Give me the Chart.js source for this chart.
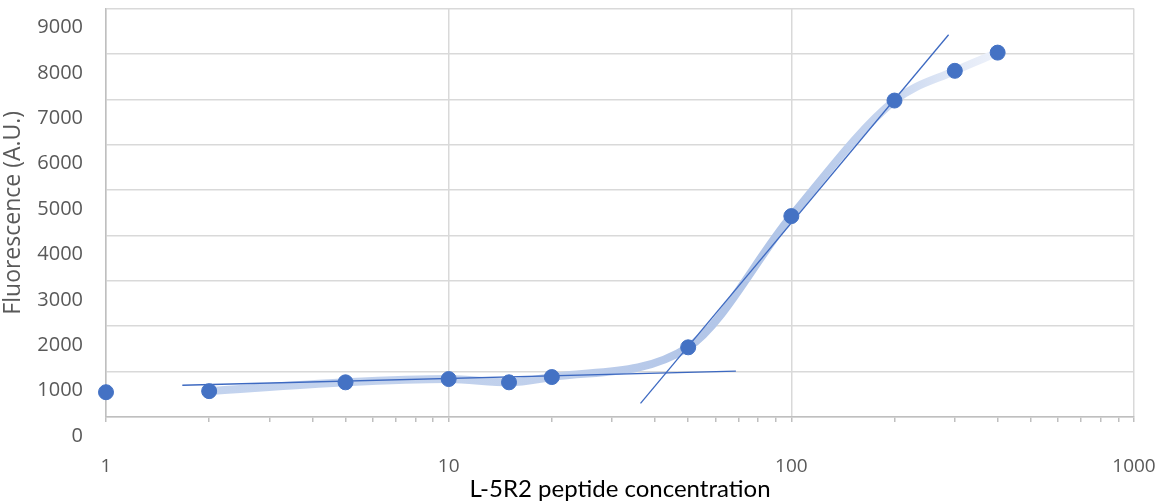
<!DOCTYPE html>
<html>
<head>
<meta charset="utf-8">
<script src="https://cdn.jsdelivr.net/npm/chart.js@4"></script>
<style>
  body { margin: 0; background: #fff; }
</style>
</head>
<body>
<canvas id="chart" width="1161" height="504"></canvas>
<script>
const concentrations = [1, 2, 5, 10, 15, 20, 50, 100, 200, 300, 400];
const fluorescence = [546, 570, 764, 836, 764, 880, 1535, 4426, 6972, 7627, 8028];

// smoothed curve runs from the 2nd point to the last one
const fitConc = [2, 5, 10, 15, 20, 50, 100, 200, 300, 400];
const fitValues = [570, 764, 836, 764, 880, 1535, 4426, 6972, 7627, 8028];

// the two straight tangent lines
const baselineConc = [1.67, 68.9];
const baselineValues = [699, 1011];
const slopeConc = [36.3, 287.7];
const slopeValues = [299, 8421];

// axis ticks
const xTickValues = [1, 2, 3, 4, 5, 6, 7, 8, 9, 10, 20, 30, 40, 50, 60, 70, 80, 90,
    100, 200, 300, 400, 500, 600, 700, 800, 900, 1000];
const xMajorTicks = [1, 10, 100, 1000];

const toPoints = (xs, ys) => xs.map((x, i) => ({ x: x, y: ys[i] }));

// light band that fades out towards the top end
const fitColor = (context) => {
    const chart = context.chart;
    if (!chart.chartArea) return '#b4c7e7';
    const sx = chart.scales.x;
    const p0 = sx.getPixelForValue(2);
    const p1 = sx.getPixelForValue(400);
    const g = chart.ctx.createLinearGradient(p0, 0, p1, 0);
    const stop = (v) => (sx.getPixelForValue(v) - p0) / (p1 - p0);
    g.addColorStop(0, '#c3d3ee');
    g.addColorStop(stop(20), '#c0d0ec');
    g.addColorStop(stop(50), '#b3c6e8');
    g.addColorStop(stop(100), '#b2c6e8');
    g.addColorStop(stop(200), '#c9d7f0');
    g.addColorStop(stop(300), '#e2e9f6');
    g.addColorStop(1, '#edf1fa');
    return g;
};

const labelFont = { family: 'Open Sans', size: 20 };

new Chart(document.getElementById('chart'), {
    type: 'scatter',
    data: {
        datasets: [
            {
                label: 'Fluorescence',
                data: toPoints(concentrations, fluorescence),
                backgroundColor: '#4472c4',
                borderColor: '#4472c4',
                pointRadius: 7.5,
                pointHoverRadius: 7.5,
                clip: false,
                order: 0,
            },
            {
                label: 'Baseline',
                data: toPoints(baselineConc, baselineValues),
                showLine: true,
                borderColor: '#3d69c1',
                borderWidth: 1.3,
                pointRadius: 0,
                order: 1,
            },
            {
                label: 'Slope',
                data: toPoints(slopeConc, slopeValues),
                showLine: true,
                borderColor: '#3d69c1',
                borderWidth: 1.3,
                pointRadius: 0,
                order: 1,
            },
            {
                label: 'Fit',
                data: toPoints(fitConc, fitValues),
                showLine: true,
                borderColor: fitColor,
                borderWidth: 8,
                borderCapStyle: 'round',
                cubicInterpolationMode: 'monotone',
                pointRadius: 0,
                order: 2,
            },
        ],
    },
    options: {
        responsive: false,
        animation: false,
        layout: {
            padding: { top: 3, right: 27, left: 0, bottom: 0 },
        },
        plugins: {
            legend: { display: false },
            tooltip: { enabled: false },
        },
        scales: {
            x: {
                type: 'logarithmic',
                min: 1,
                max: 1000,
                afterBuildTicks: (scale) => {
                    scale.ticks = xTickValues.map((v) => ({ value: v, major: xMajorTicks.includes(v) }));
                },
                afterFit: (scale) => {
                    scale.height = 87;
                    scale.paddingLeft = 0;
                    scale.paddingRight = 0;
                },
                ticks: {
                    autoSkip: false,
                    maxRotation: 0,
                    padding: 33,
                    color: '#595959',
                    font: { family: 'Open Sans', size: 19 },
                    callback: (value) => (xMajorTicks.includes(value) ? String(value) : ''),
                },
                grid: {
                    color: (ctx) => (ctx.tick && xMajorTicks.includes(ctx.tick.value) ? '#d9d9d9' : 'rgba(0,0,0,0)'),
                    lineWidth: 1.5,
                    tickColor: '#bfbfbf',
                    tickLength: 5,
                },
                border: { color: '#bfbfbf', width: 1.5 },
                title: {
                    display: true,
                    text: 'L-5R2 peptide concentration',
                    color: '#000000',
                    font: { family: 'Lato', size: 24 },
                    padding: { top: 0, bottom: 0 },
                },
            },
            y: {
                min: 0,
                max: 9000,
                afterFit: (scale) => {
                    scale.width = 106;
                    scale.paddingTop = 0;
                    scale.paddingBottom = 0;
                },
                ticks: {
                    stepSize: 1000,
                    padding: 23,
                    labelOffset: 19,
                    color: '#595959',
                    font: labelFont,
                    callback: (value) => String(value),
                },
                grid: {
                    color: '#d9d9d9',
                    lineWidth: 1.5,
                    drawTicks: false,
                },
                border: { color: '#bfbfbf', width: 1.5 },
                title: {
                    display: true,
                    text: 'Fluorescence (A.U.)',
                    color: '#595959',
                    font: { family: 'Open Sans', size: 23 },
                    padding: { top: 0, bottom: 0 },
                },
            },
        },
    },
});
</script>
</body>
</html>
